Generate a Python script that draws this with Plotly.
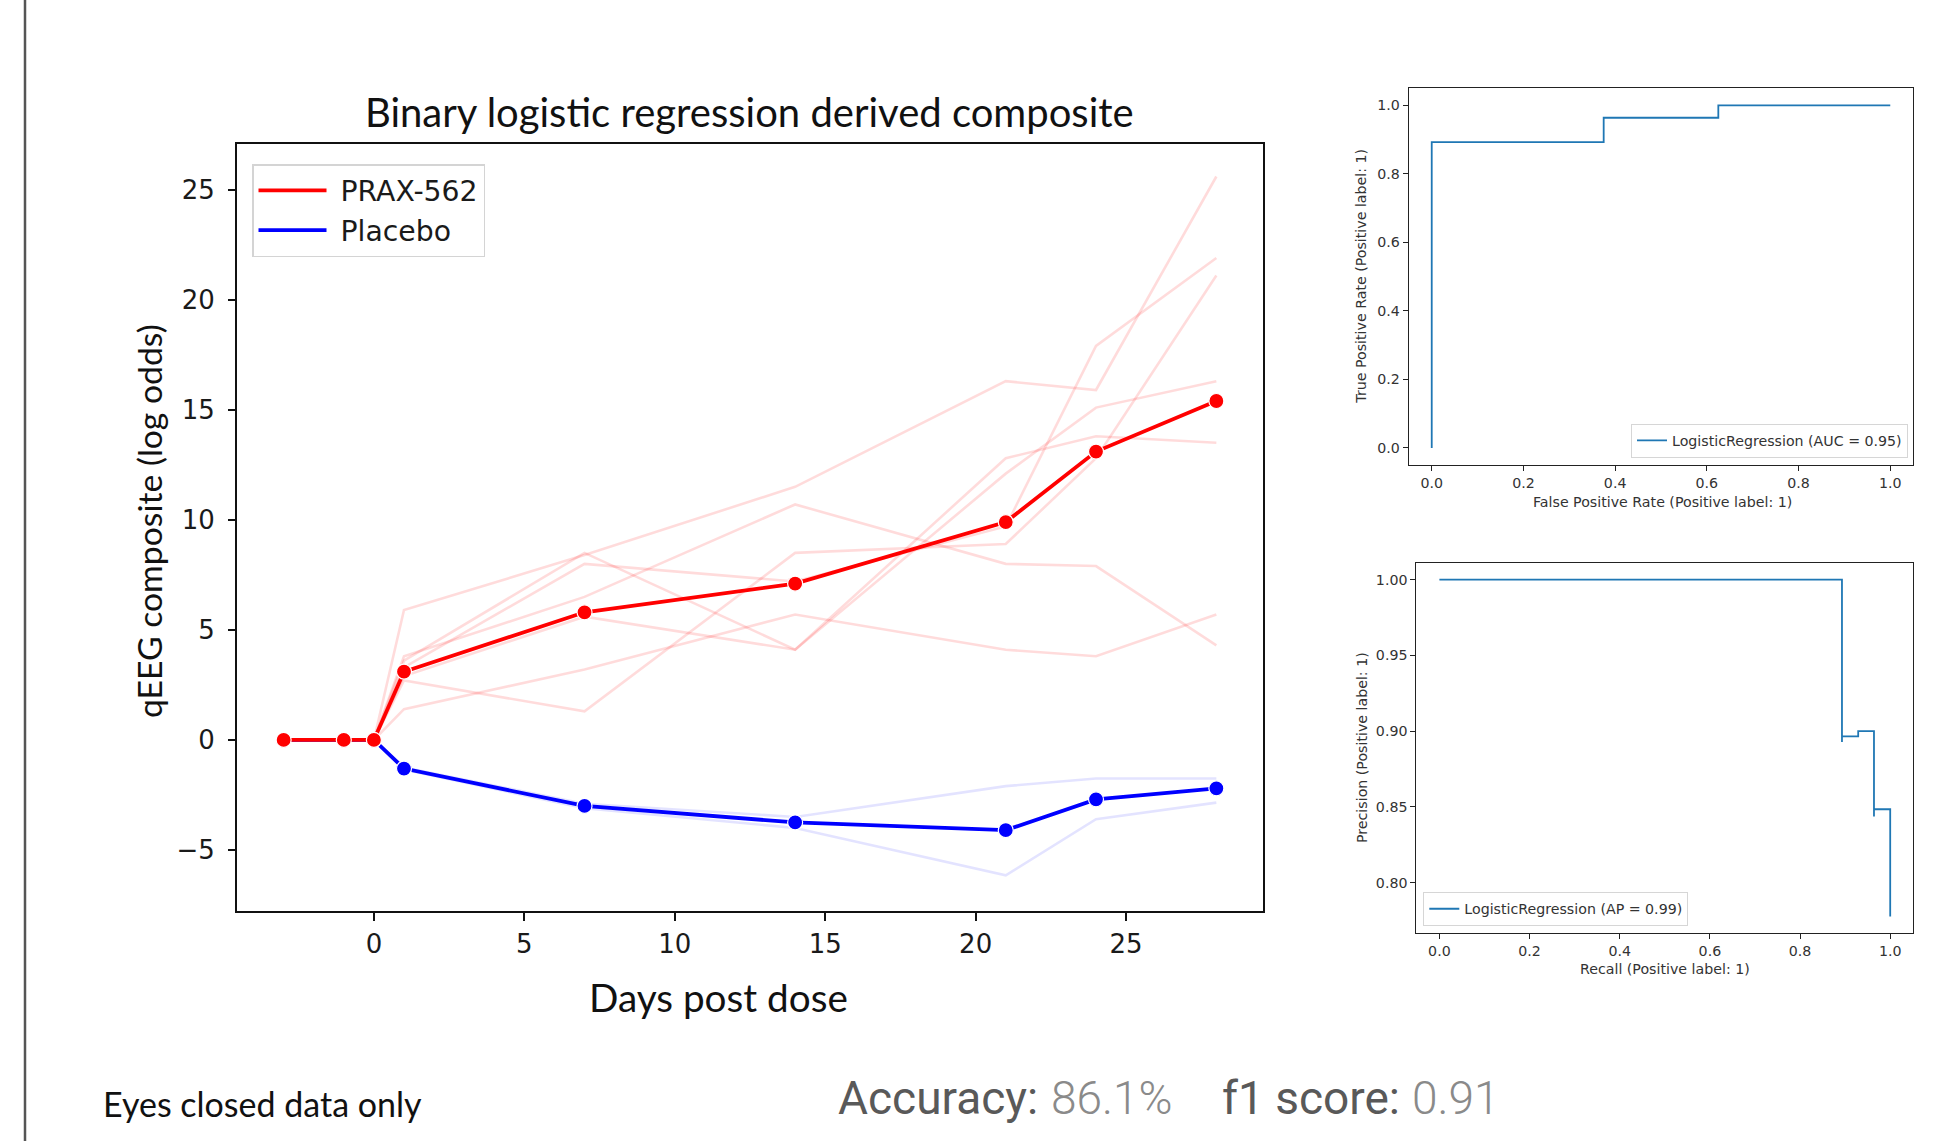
import plotly.graph_objects as go

W, H = 1939, 1141

# ---------------- data ----------------
days = [-3, -1, 0, 1, 7, 14, 21, 24, 28]
prax_mean = [0, 0, 0, 3.1, 5.8, 7.1, 9.9, 13.1, 15.4]
placebo_mean = [0, 0, 0, -1.3, -3.0, -3.75, -4.1, -2.7, -2.2]

prax_subj_1 = [0, 0, 0, 5.9, 8.4, 11.5, 16.3, 15.9, 25.6]
prax_subj_2 = [0, 0, 0, 3.3, 8.0, 7.2, 9.7, 17.9, 21.9]
prax_subj_3 = [0, 0, 0, 2.7, 1.3, 8.5, 8.9, 12.8, 21.1]
prax_subj_4 = [0, 0, 0, 2.9, 5.6, 4.1, 12.1, 15.1, 16.3]
prax_subj_5 = [0, 0, 0, 3.6, 8.5, 4.1, 12.8, 13.8, 13.5]
prax_subj_6 = [0, 0, 0, 3.8, 6.5, 10.7, 8.0, 7.9, 4.3]
prax_subj_7 = [0, 0, 0, 1.4, 3.2, 5.7, 4.1, 3.8, 5.7]

placebo_subj_1 = [0, 0, 0, -1.25, -2.9, -3.5, -2.1, -1.75, -1.75]
placebo_subj_2 = [0, 0, 0, -1.35, -3.1, -4.0, -6.15, -3.6, -2.85]

x_ticks = [0, 5, 10, 15, 20, 25]
y_ticks = [-5, 0, 5, 10, 15, 20, 25]

roc_fpr = [0.0, 0.0, 0.375, 0.375, 0.625, 0.625, 1.0]
roc_tpr = [0.0, 0.893, 0.893, 0.964, 0.964, 1.0, 1.0]
roc_name = "LogisticRegression (AUC = 0.95)"

pr_recall = [1.0, 1.0, 0.964, 0.964, 0.929, 0.893, 0.893, 0.0]
pr_precision = [0.7778, 0.8485, 0.84375, 0.9, 0.8966, 0.8929, 1.0, 1.0]
pr_name = "LogisticRegression (AP = 0.99)"

unit_ticks = [0.0, 0.2, 0.4, 0.6, 0.8, 1.0]
pr_y_ticks = [0.80, 0.85, 0.90, 0.95, 1.00]

# ---------------- helpers ----------------
def px(x):
    return x / W

def py(y):
    return 1 - y / H

RED = "#ff0000"
BLUE = "#0000ff"
C0 = "#1f77b4"
TICKFONT = "DejaVu Sans"
SLIDEFONT = "Lato"
NB = "\u00a0"

fig = go.Figure()

# individual subjects
for s in [prax_subj_1, prax_subj_2, prax_subj_3, prax_subj_4,
          prax_subj_5, prax_subj_6, prax_subj_7]:
    fig.add_trace(go.Scatter(x=days, y=s, mode="lines",
                             line=dict(color="rgba(255,0,0,0.14)", width=2.6),
                             showlegend=False, hoverinfo="skip"))
for s in [placebo_subj_1, placebo_subj_2]:
    fig.add_trace(go.Scatter(x=days, y=s, mode="lines",
                             line=dict(color="rgba(0,0,255,0.11)", width=2.6),
                             showlegend=False, hoverinfo="skip"))

# means
fig.add_trace(go.Scatter(x=days, y=placebo_mean, mode="lines+markers",
                         line=dict(color=BLUE, width=3.8),
                         marker=dict(color=BLUE, size=15, line=dict(color="white", width=1.2)),
                         showlegend=False))
fig.add_trace(go.Scatter(x=days, y=prax_mean, mode="lines+markers",
                         line=dict(color=RED, width=3.8),
                         marker=dict(color=RED, size=15, line=dict(color="white", width=1.2)),
                         showlegend=False))

# legend entries (line only)
fig.add_trace(go.Scatter(x=[None], y=[None], mode="lines", name=NB + "PRAX-562",
                         line=dict(color=RED, width=3.8), legend="legend"))
fig.add_trace(go.Scatter(x=[None], y=[None], mode="lines", name=NB + "Placebo",
                         line=dict(color=BLUE, width=3.8), legend="legend"))

# ROC
fig.add_trace(go.Scatter(x=roc_fpr, y=roc_tpr, mode="lines", name=roc_name,
                         line=dict(color=C0, width=1.8),
                         xaxis="x2", yaxis="y2", legend="legend2"))
# PR
fig.add_trace(go.Scatter(x=pr_recall, y=pr_precision, mode="lines", name=pr_name,
                         line=dict(color=C0, width=1.8, shape="hv"),
                         xaxis="x3", yaxis="y3", legend="legend3"))

SMALL = 14.2
main_ax = dict(showline=True, linecolor="#111", linewidth=2, mirror=True,
               ticks="outside", tickcolor="#111", tickwidth=1.6,
               showgrid=False, zeroline=False,
               tickfont=dict(family=TICKFONT, size=26, color="#1a1a1a"))
small_ax = dict(showline=True, linecolor="#222", linewidth=1.2, mirror=True,
                ticks="outside", tickcolor="#222", tickwidth=1, ticklen=5,
                showgrid=False, zeroline=False,
                tickfont=dict(family=TICKFONT, size=SMALL, color="#333"))

fig.update_layout(
    width=W, height=H, autosize=False,
    margin=dict(l=0, r=0, t=0, b=0),
    paper_bgcolor="white", plot_bgcolor="white",
    xaxis=dict(domain=[px(237), px(1263)], range=[-4.55, 29.55],
               tickvals=x_ticks, ticklen=8, ticklabelstandoff=1, anchor="y", **main_ax),
    yaxis=dict(domain=[py(910.5), py(143.5)], range=[-7.75, 27.1],
               tickvals=y_ticks, ticklen=7, ticklabelstandoff=8, anchor="x", **main_ax),
    xaxis2=dict(domain=[px(1408.8), px(1913.2)], range=[-0.05, 1.05],
                tickvals=unit_ticks, tickformat=".1f", anchor="y2", **small_ax),
    yaxis2=dict(domain=[py(465), py(88.3)], range=[-0.05, 1.05],
                tickvals=unit_ticks, tickformat=".1f", anchor="x2", **small_ax),
    xaxis3=dict(domain=[px(1416.4), px(1913.2)], range=[-0.051, 1.051],
                tickvals=unit_ticks, tickformat=".1f", anchor="y3", **small_ax),
    yaxis3=dict(domain=[py(933.3), py(562.7)], range=[0.7667, 1.0111],
                tickvals=pr_y_ticks, tickformat=".2f", anchor="x3", **small_ax),
    legend=dict(x=px(252), y=py(164), xanchor="left", yanchor="top",
                bgcolor="rgba(255,255,255,0.85)", bordercolor="#d4d4d4", borderwidth=1.5,
                font=dict(family=TICKFONT, size=28.3, color="#1a1a1a"), itemwidth=68,
                tracegroupgap=0),
    legend2=dict(x=px(1908), y=py(457.7), xanchor="right", yanchor="bottom",
                 bgcolor="rgba(255,255,255,0.85)", bordercolor="#d6d6d6", borderwidth=1,
                 font=dict(family=TICKFONT, size=SMALL, color="#333")),
    legend3=dict(x=px(1423.3), y=py(926), xanchor="left", yanchor="bottom",
                 bgcolor="rgba(255,255,255,0.85)", bordercolor="#d6d6d6", borderwidth=1,
                 font=dict(family=TICKFONT, size=SMALL, color="#333")),
)

annotations = [
    dict(text="Binary logistic regression derived composite", x=px(749.5), y=py(112),
         font=dict(family=SLIDEFONT, size=40, color="#111")),
    dict(text="Days post dose", x=px(718.5), y=py(997),
         font=dict(family=SLIDEFONT, size=38.7, color="#111")),
    dict(text="qEEG composite (log odds)", x=px(149), y=py(521), textangle=-90,
         font=dict(family=SLIDEFONT, size=33.7, color="#111")),
    dict(text="True Positive Rate (Positive label: 1)", x=px(1361), y=py(276.7), textangle=-90,
         font=dict(family=TICKFONT, size=SMALL, color="#333")),
    dict(text="False Positive Rate (Positive label: 1)", x=px(1662.6), y=py(502),
         font=dict(family=TICKFONT, size=SMALL, color="#333")),
    dict(text="Precision (Positive label: 1)", x=px(1362), y=py(748), textangle=-90,
         font=dict(family=TICKFONT, size=SMALL, color="#333")),
    dict(text="Recall (Positive label: 1)", x=px(1664.8), y=py(969),
         font=dict(family=TICKFONT, size=SMALL, color="#333")),
    dict(text="Eyes closed data only", x=px(101), y=py(1103), xanchor="left",
         font=dict(family=SLIDEFONT, size=34, color="#111")),
    dict(text="Accuracy:", x=px(836), y=py(1098), xanchor="left",
         font=dict(family="Roboto", size=46, color="#595959")),
    dict(text="86.1%", x=px(1049), y=py(1098), xanchor="left",
         font=dict(family="Roboto", size=46, color="#8a8a8a", weight=300)),
    dict(text="f1 score:", x=px(1220), y=py(1098), xanchor="left",
         font=dict(family="Roboto", size=46, color="#595959")),
    dict(text="0.91", x=px(1410), y=py(1098), xanchor="left",
         font=dict(family="Roboto", size=46, color="#8a8a8a", weight=300)),
]
for a in annotations:
    a.setdefault("xanchor", "center")
    a.update(xref="paper", yref="paper", showarrow=False, yanchor="middle")
    fig.add_annotation(**a)

fig.add_shape(type="line", xref="paper", yref="paper",
              x0=px(25), x1=px(25), y0=0, y1=1,
              line=dict(color="#555555", width=2.5))

fig.write_html("out.html")
